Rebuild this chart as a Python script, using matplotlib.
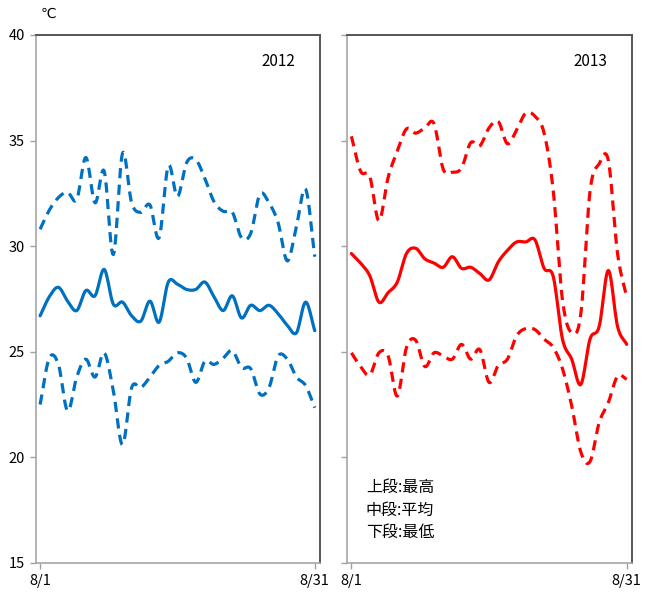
import matplotlib
matplotlib.use("Agg")
import matplotlib.pyplot as plt
import numpy as np

plt.rcParams['font.family'] = ['Noto Sans CJK JP', 'DejaVu Sans']

# 8月の日別気温 (℃)
days = np.arange(1, 32)

max_2012 = [30.8, 31.7, 32.3, 32.55, 32.2, 34.2, 32.05, 33.55, 29.6, 34.4,
            32.05, 31.6, 31.95, 30.4, 33.8, 32.35, 33.95, 34.1, 33.2, 32.1,
            31.65, 31.6, 30.4, 30.6, 32.45, 32.05, 31.1, 29.3, 30.95, 32.7, 29.5]
mean_2012 = [26.7, 27.6, 28.05, 27.4, 26.95, 27.9, 27.65, 28.9, 27.25, 27.35,
             26.7, 26.45, 27.4, 26.4, 28.3, 28.2, 27.95, 27.95, 28.3, 27.6,
             26.95, 27.65, 26.6, 27.2, 26.95, 27.2, 26.8, 26.25, 25.9, 27.35, 26.0]
min_2012 = [22.5, 24.7, 24.4, 22.2, 23.8, 24.65, 23.8, 24.95, 23.15, 20.6,
            23.3, 23.3, 23.8, 24.35, 24.55, 24.95, 24.7, 23.55, 24.55, 24.4,
            24.7, 25.05, 24.25, 24.2, 23.0, 23.3, 24.8, 24.65, 23.8, 23.4, 22.35]

max_2013 = [35.2, 33.55, 33.3, 31.2, 33.25, 34.5, 35.55, 35.35, 35.6, 35.8,
            33.65, 33.5, 33.7, 34.9, 34.75, 35.6, 35.9, 34.85, 35.5, 36.3,
            36.15, 35.35, 32.6, 27.45, 25.9, 26.8, 32.6, 33.9, 34.05, 29.65, 27.6]
mean_2013 = [29.65, 29.2, 28.6, 27.35, 27.8, 28.3, 29.65, 29.9, 29.4, 29.2,
             29.0, 29.5, 28.95, 29.0, 28.7, 28.4, 29.25, 29.8, 30.2, 30.2,
             30.3, 28.95, 28.55, 25.6, 24.65, 23.45, 25.6, 26.2, 28.85, 26.2, 25.35]
min_2013 = [24.95, 24.3, 23.9, 24.95, 24.8, 22.9, 25.2, 25.55, 24.3, 24.95,
            24.8, 24.65, 25.35, 24.65, 25.1, 23.55, 24.35, 24.65, 25.75, 26.1,
            26.05, 25.6, 25.2, 24.2, 22.45, 20.25, 19.8, 21.65, 22.6, 23.85, 23.7]

years = ["2012", "2013"]
colors = ["#0070C0", "#FF0000"]
legend_lines = ["上段:最高", "中段:平均", "下段:最低"]


def smooth(x, y, n=12):
    # Excelの「スムージング」風 (Catmull-Rom)
    x = np.asarray(x, float)
    y = np.asarray(y, float)
    px = np.concatenate([[2 * x[0] - x[1]], x, [2 * x[-1] - x[-2]]])
    py = np.concatenate([[2 * y[0] - y[1]], y, [2 * y[-1] - y[-2]]])
    t = np.linspace(0, 1, n, endpoint=False)
    xs, ys = [], []
    for i in range(1, len(px) - 2):
        for p, out in ((px, xs), (py, ys)):
            p0, p1, p2, p3 = p[i - 1], p[i], p[i + 1], p[i + 2]
            out.append(0.5 * (2 * p1 + (-p0 + p2) * t
                              + (2 * p0 - 5 * p1 + 4 * p2 - p3) * t ** 2
                              + (-p0 + 3 * p1 - 3 * p2 + p3) * t ** 3))
    return np.concatenate(xs + [[x[-1]]]), np.concatenate(ys + [[y[-1]]])


fig = plt.figure(figsize=(6.54, 5.92), dpi=100)
ax1 = fig.add_axes([0.055, 0.049, 0.434, 0.892])
ax2 = fig.add_axes([0.531, 0.049, 0.435, 0.892])

data = [(max_2012, mean_2012, min_2012), (max_2013, mean_2013, min_2013)]

for ax, (hi, mid, lo), year, c in zip([ax1, ax2], data, years, colors):
    for vals, ls in ((hi, "--"), (mid, "-"), (lo, "--")):
        sx, sy = smooth(days, vals)
        line, = ax.plot(sx, sy, color=c, lw=2.3, ls=ls, solid_capstyle="round")
        if ls == "--":
            line.set_dashes((3.2, 2.0))
    ax.set_xlim(0.55, 31.55)
    ax.set_ylim(15, 40)
    ax.set_yticks([15, 20, 25, 30, 35, 40])
    ax.set_xticks([1, 31])
    ax.set_xticklabels(["8/1", "8/31"], fontsize=10.5)
    ax.tick_params(axis="both", direction="out", length=4, color="#a0a0a0",
                   width=1, labelsize=10.5, pad=4)
    for s in ("left", "bottom"):
        ax.spines[s].set_color("#a6a6a6")
        ax.spines[s].set_linewidth(1.2)
    for s in ("top", "right"):
        ax.spines[s].set_color("#555555")
        ax.spines[s].set_linewidth(1.4)
    ax.text(0.855, 0.949, year, transform=ax.transAxes, ha="center",
            va="center", fontsize=11)

ax2.set_yticklabels([])
ax1.text(0.015, 1.04, "℃", transform=ax1.transAxes, ha="left",
         va="center", fontsize=10, family=["DejaVu Sans"])
ax2.text(0.065, 0.042, "\n".join(legend_lines), transform=ax2.transAxes,
         ha="left", va="bottom", fontsize=11.5, linespacing=1.4)

fig.savefig("out.png", dpi=100)
